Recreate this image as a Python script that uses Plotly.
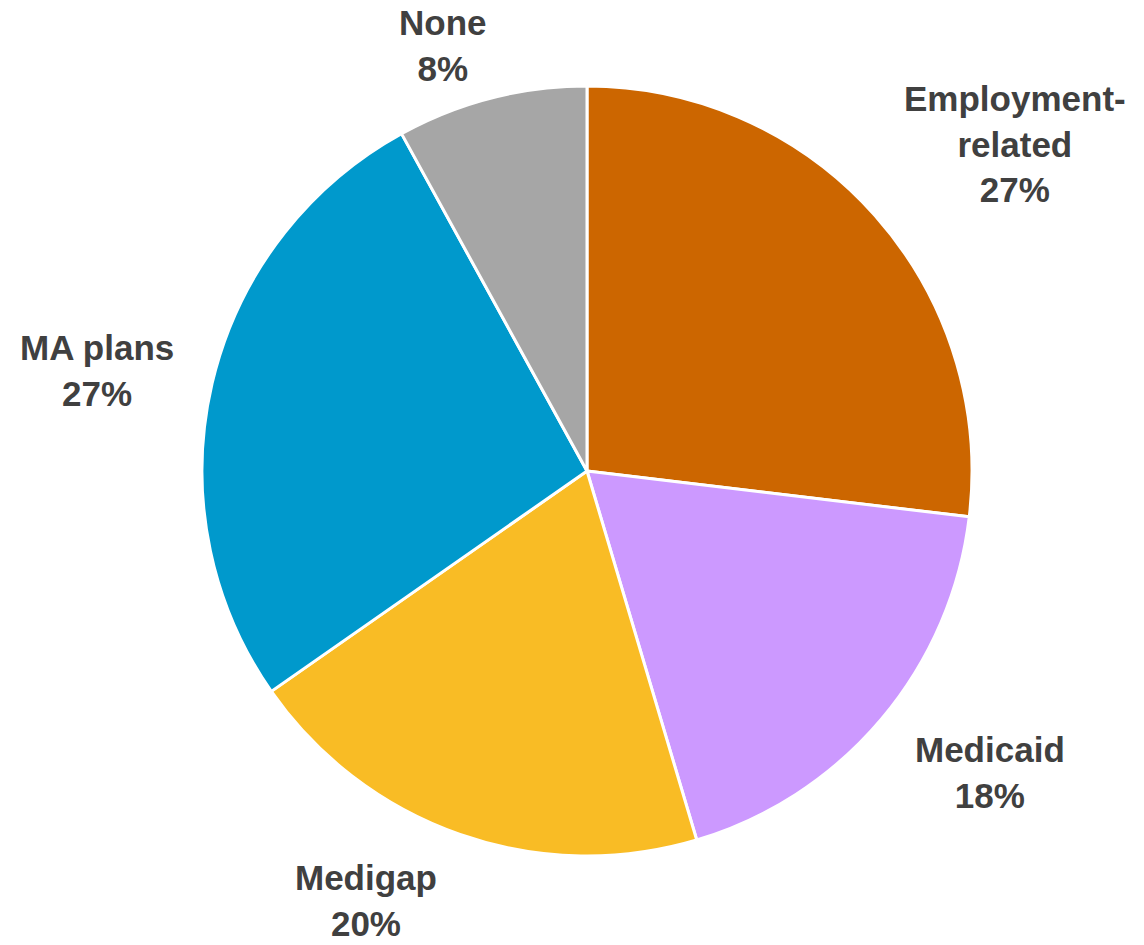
import plotly.graph_objects as go

categories = ["Employment-related", "Medicaid", "Medigap", "MA plans", "None"]
values = [26.9, 18.5, 19.9, 26.7, 8.0]
pct_labels = ["27%", "18%", "20%", "27%", "8%"]
label_text = ["Employment-<br>related", "Medicaid", "Medigap", "MA plans", "None"]
colors = ["#CC6600", "#CC99FF", "#F9BC25", "#0099CC", "#A6A6A6"]

W, H = 1144, 945
cx, cy, r = 587, 471, 385

# label block centers in pixels
label_pos = [(1015, 144), (990, 772), (366, 900), (97, 370), (443, 46)]

fig = go.Figure(go.Pie(
    labels=categories,
    values=values,
    sort=False,
    direction="clockwise",
    rotation=0,
    textinfo="none",
    hoverinfo="label+percent",
    marker=dict(colors=colors, line=dict(color="white", width=3)),
    domain=dict(x=[(cx - r) / W, (cx + r) / W], y=[1 - (cy + r) / H, 1 - (cy - r) / H]),
    showlegend=False,
))

for txt, pct, (px, py) in zip(label_text, pct_labels, label_pos):
    fig.add_annotation(
        x=px / W, y=1 - py / H, xref="paper", yref="paper",
        text=f"<b>{txt}<br>{pct}</b>", showarrow=False,
        xanchor="center", yanchor="middle", align="center",
        font=dict(family="Liberation Sans, Arial, sans-serif", size=35, color="#404040"),
    )

fig.update_layout(
    width=W, height=H,
    margin=dict(l=0, r=0, t=0, b=0),
    paper_bgcolor="white", plot_bgcolor="white",
)

fig.write_html("out.html")
